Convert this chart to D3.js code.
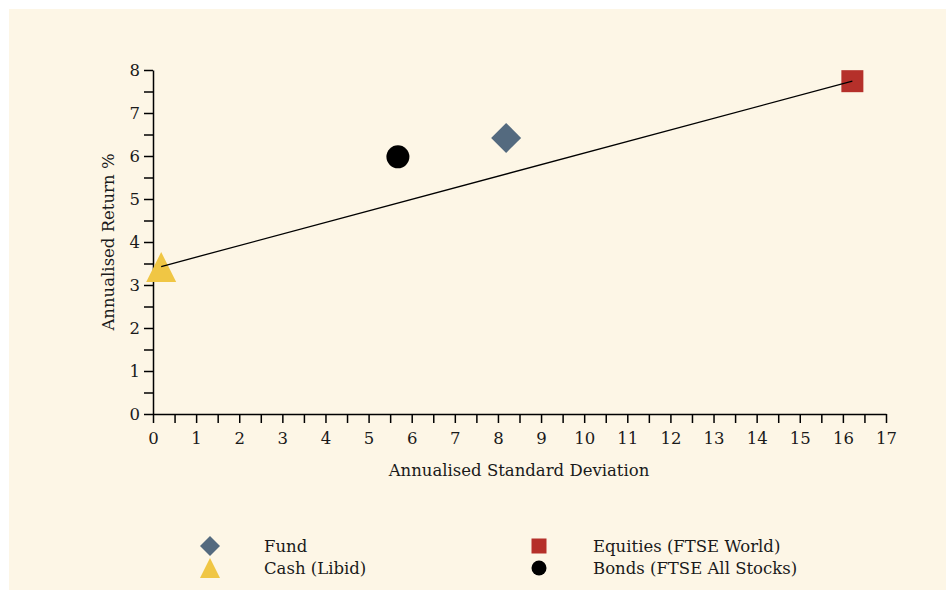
<!DOCTYPE html>
<html><head><meta charset="utf-8">
<script src="https://cdn.jsdelivr.net/npm/d3@7"></script>
<style>body{margin:0;background:#fff;} svg{display:block;}</style>
</head><body>
<svg id="c" width="946" height="590"></svg>
<script>
const seriesNames = ["Fund", "Cash (Libid)", "Equities (FTSE World)", "Bonds (FTSE All Stocks)"];
const stdDev = [8.19, 0.19, 16.22, 5.68];
const annReturn = [6.42, 3.43, 7.74, 5.98];
const colors = ["#546a7f", "#f0c644", "#b5302a", "#000000"];
const shapes = ["diamond", "triangle", "square", "circle"];
const lineFrom = 1, lineTo = 2; // Cash -> Equities

const svg = d3.select("#c");
const font = "DejaVu Serif";
const fs = 16.5;
svg.append("rect").attr("x", 9).attr("y", 9).attr("width", 937).attr("height", 581).attr("fill", "#fdf6e6");

const x = d3.scaleLinear().domain([0, 17]).range([153, 886]);
const y = d3.scaleLinear().domain([0, 8]).range([414, 70]);

const xAxis = svg.append("g").attr("transform", "translate(0,414)")
  .call(d3.axisBottom(x).tickValues(d3.range(0, 17.01, 0.5)).tickSize(9).tickSizeOuter(0)
    .tickFormat(d => Number.isInteger(d) ? d : ""));
const yAxis = svg.append("g").attr("transform", "translate(153,0)")
  .call(d3.axisLeft(y).tickValues(d3.range(0, 8.01, 0.5)).tickSize(9).tickSizeOuter(0)
    .tickFormat(d => Number.isInteger(d) ? d : ""));
[xAxis, yAxis].forEach(a => {
  a.selectAll("path.domain").attr("stroke", "#000").attr("stroke-width", 1.5);
  a.selectAll(".tick line").attr("stroke", "#000").attr("stroke-width", 1.5);
  a.selectAll("text").attr("font-family", font).attr("font-size", fs).attr("fill", "#1a1a1a");
});
xAxis.selectAll("text").attr("dy", "0.71em").attr("y", 18);
yAxis.selectAll("text").attr("x", -13);

svg.append("text").attr("x", 519).attr("y", 476).attr("text-anchor", "middle")
  .attr("font-family", font).attr("font-size", fs).attr("fill", "#1a1a1a").text("Annualised Standard Deviation");
svg.append("text").attr("transform", "translate(114,242) rotate(-90)").attr("text-anchor", "middle")
  .attr("font-family", font).attr("font-size", fs).attr("fill", "#1a1a1a").text("Annualised Return %");

function shapePath(s, r) {
  if (s === "diamond") return `M0,${-r}L${r},0L0,${r}L${-r},0Z`;
  if (s === "square") return `M${-r},${-r}H${r}V${r}H${-r}Z`;
  if (s === "triangle") { const h = r * 2; return `M0,${-h * 0.55}L${r},${h * 0.45}L${-r},${h * 0.45}Z`; }
  return `M${r},0A${r},${r} 0 1,1 ${-r},0A${r},${r} 0 1,1 ${r},0Z`;
}
const sizes = {diamond: 15, square: 11, triangle: 15, circle: 11.5};
const markers = svg.append("g");
[1, 0, 3, 2].forEach(i => {
  markers.append("path").attr("d", shapePath(shapes[i], sizes[shapes[i]]))
    .attr("transform", `translate(${x(stdDev[i])},${y(annReturn[i]) + (shapes[i] === "triangle" ? 2 : 0)})`)
    .attr("fill", colors[i]);
});
svg.append("line")
  .attr("x1", x(stdDev[lineFrom])).attr("y1", y(annReturn[lineFrom]))
  .attr("x2", x(stdDev[lineTo])).attr("y2", y(annReturn[lineTo]))
  .attr("stroke", "#000").attr("stroke-width", 1.3);

// legend
const legPos = [[210, 546], [210, 568], [539, 546], [539, 568]];
const legSize = {diamond: 10, square: 7.5, triangle: 10, circle: 7.5};
seriesNames.forEach((n, i) => {
  const [lx, ly] = legPos[i];
  svg.append("path").attr("d", shapePath(shapes[i], legSize[shapes[i]]))
    .attr("transform", `translate(${lx},${ly + (shapes[i] === "triangle" ? 1 : 0)})`).attr("fill", colors[i]);
  svg.append("text").attr("x", lx + 54).attr("y", ly).attr("dy", "0.35em")
    .attr("font-family", font).attr("font-size", fs).attr("fill", "#1a1a1a").text(n);
});
</script>
</body></html>
